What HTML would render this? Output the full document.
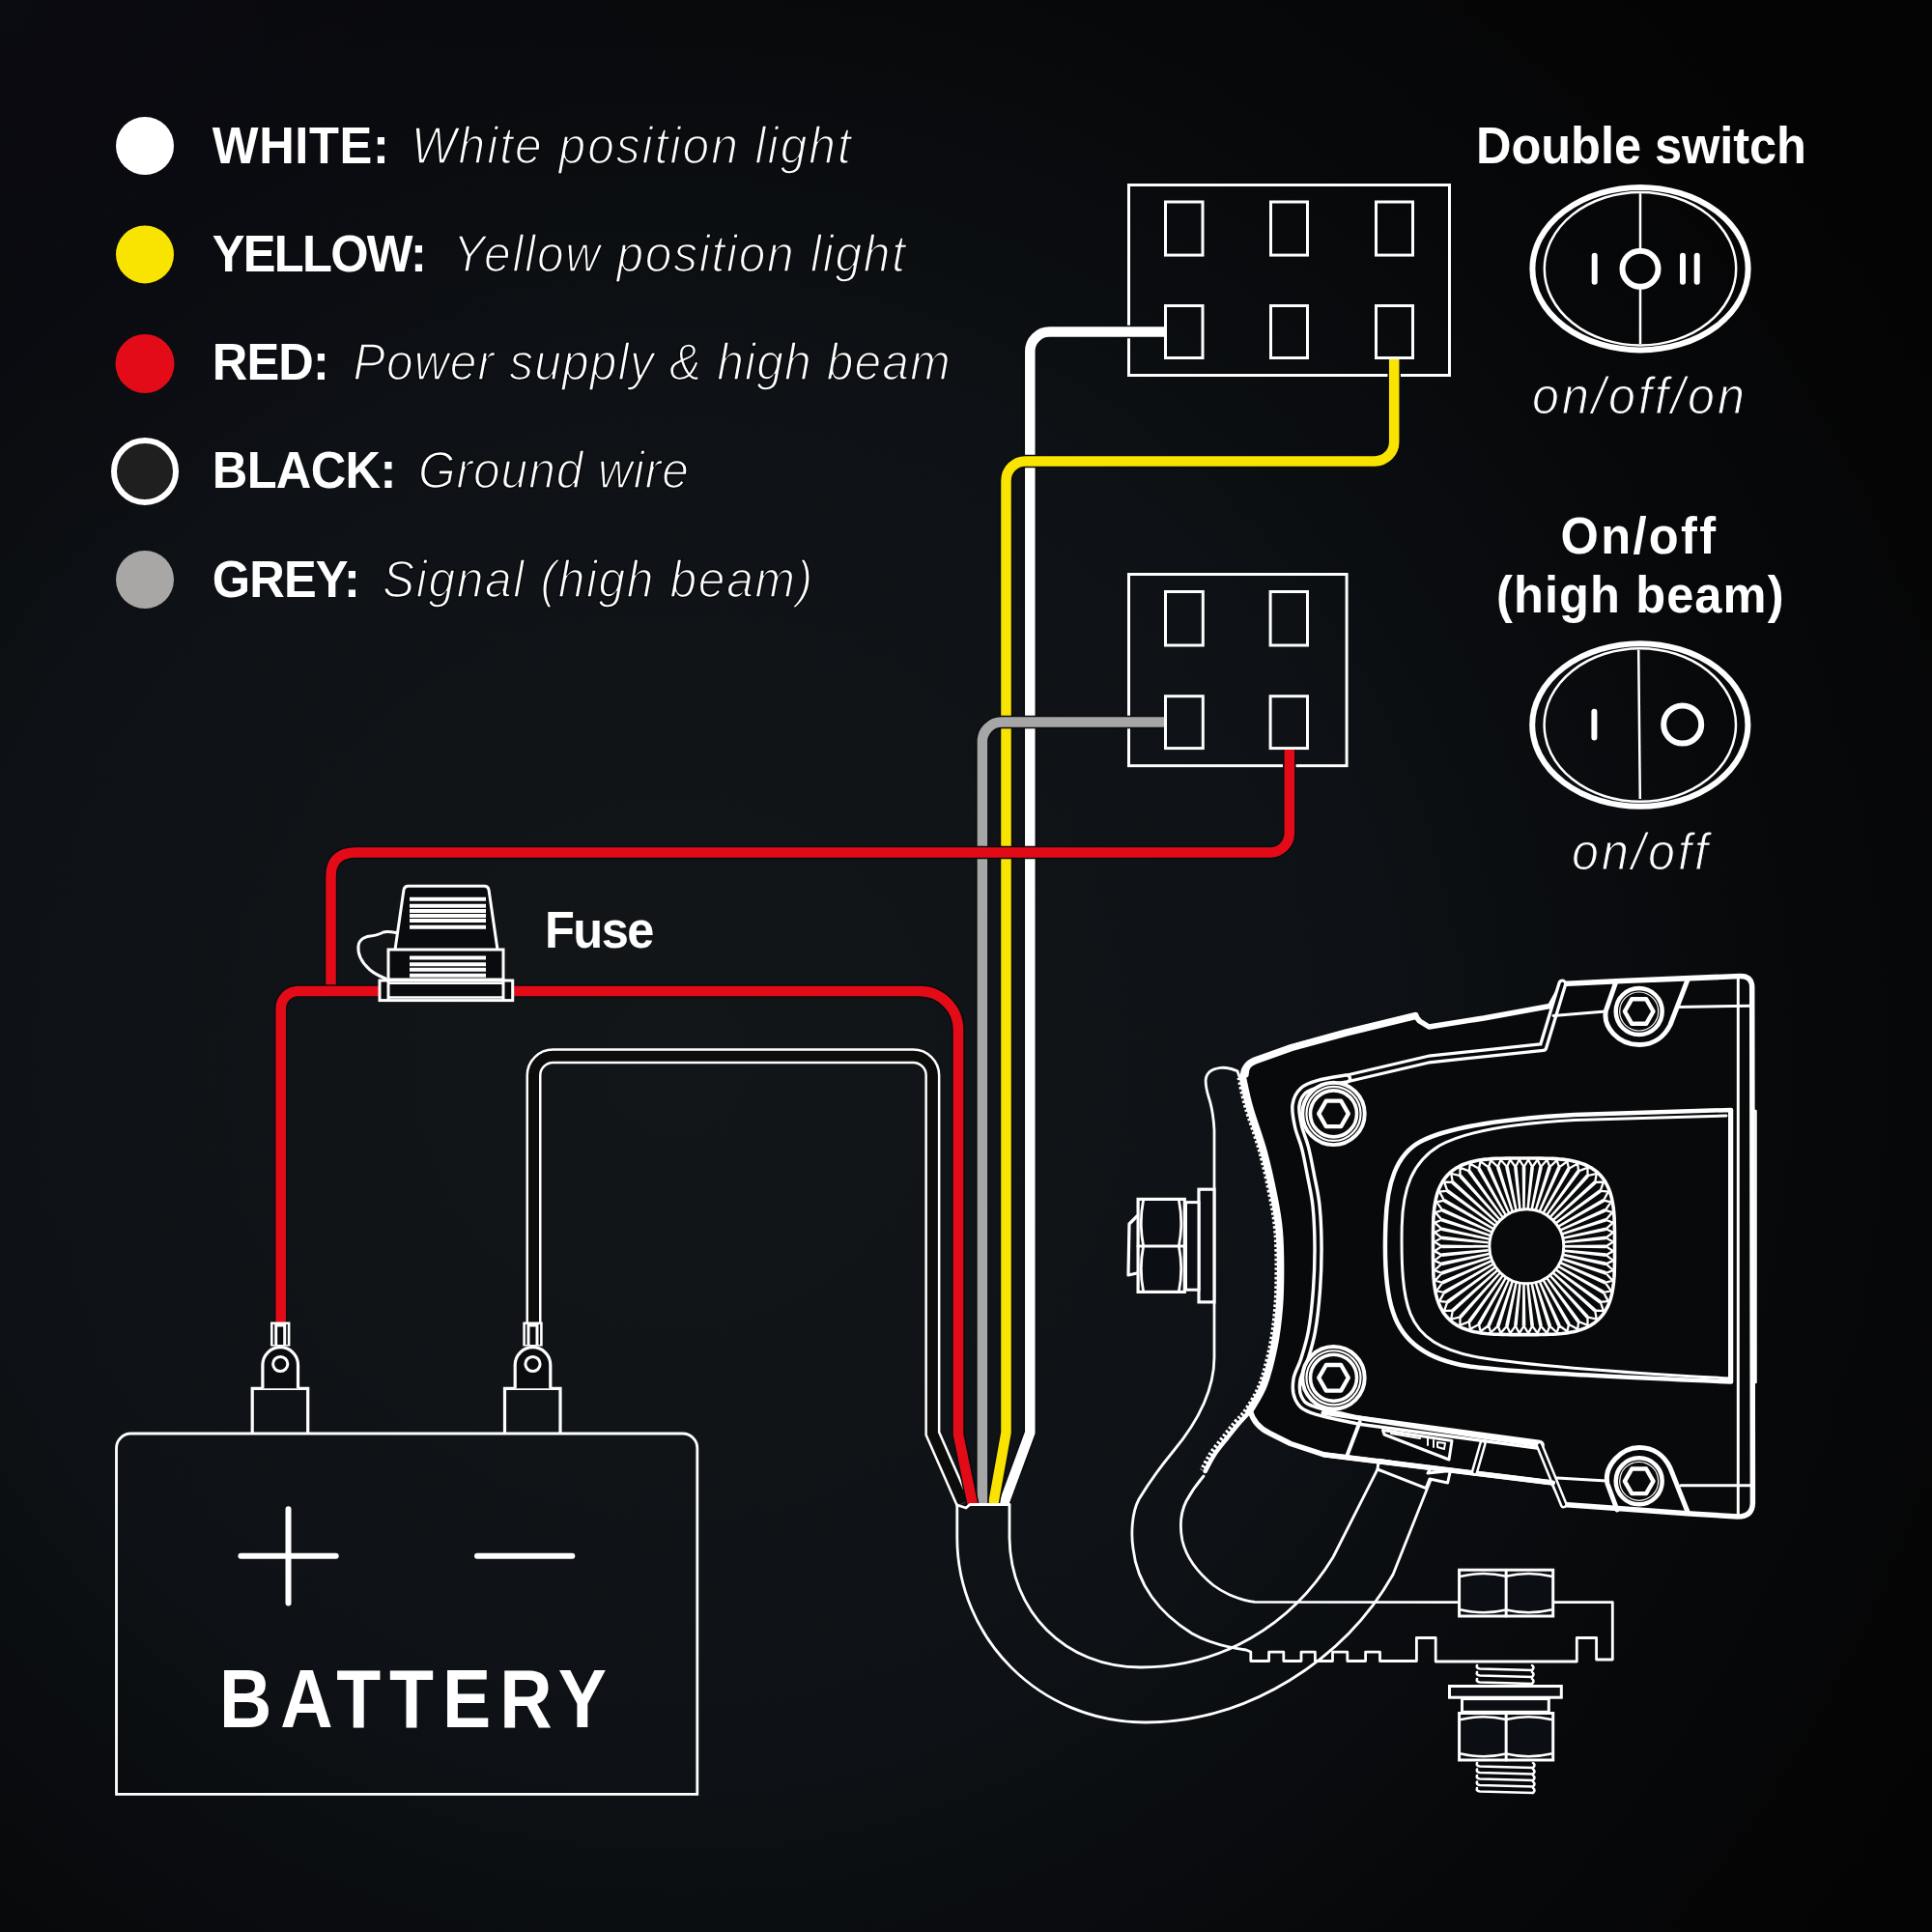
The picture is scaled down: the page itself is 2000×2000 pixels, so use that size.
<!DOCTYPE html>
<html><head><meta charset="utf-8"><title>Wiring diagram</title>
<style>html,body{margin:0;padding:0;background:#0b0f13;width:2000px;height:2000px;overflow:hidden}svg{display:block}</style>
</head><body>
<svg xmlns="http://www.w3.org/2000/svg" width="2000" height="2000" viewBox="0 0 2000 2000">
<defs>
<radialGradient id="bg" gradientUnits="userSpaceOnUse" cx="700" cy="1100" r="1550">
<stop offset="0" stop-color="#121619"/>
<stop offset="0.45" stop-color="#0e1216"/>
<stop offset="0.75" stop-color="#07080a"/>
<stop offset="1" stop-color="#040404"/>
</radialGradient>
<radialGradient id="bg2" gradientUnits="userSpaceOnUse" cx="0" cy="0" r="700">
<stop offset="0" stop-color="#0c0c14" stop-opacity="0.8"/>
<stop offset="1" stop-color="#0c0c14" stop-opacity="0"/>
</radialGradient>
</defs>
<rect x="0" y="0" width="2000" height="2000" fill="url(#bg)"/>
<rect x="0" y="0" width="2000" height="2000" fill="url(#bg2)"/>
<circle cx="150" cy="151" r="30" fill="#fff"/>
<circle cx="150" cy="263.4" r="30" fill="#f9e300"/>
<circle cx="150" cy="376.5" r="30.5" fill="#e30b17"/>
<circle cx="150" cy="488" r="32" fill="#1f1f1f" stroke="#fff" stroke-width="6"/>
<circle cx="150" cy="600" r="30" fill="#a9a7a5"/>
<text transform="translate(219.8 168.9) scale(0.93 1)" font-family="Liberation Sans, sans-serif" font-weight="bold" font-size="54.4" fill="#fff" textLength="196.8" lengthAdjust="spacing">WHITE:</text>
<text transform="translate(425.7 168.9) scale(0.92 1)" font-family="Liberation Sans, sans-serif" font-style="italic" font-size="54" fill="#fff" stroke="url(#bg)" stroke-width="1.6" textLength="494.6" lengthAdjust="spacing">White position light</text>
<text transform="translate(219.8 280.8) scale(0.93 1)" font-family="Liberation Sans, sans-serif" font-weight="bold" font-size="54.4" fill="#fff" textLength="238.7" lengthAdjust="spacing">YELLOW:</text>
<text transform="translate(469 280.8) scale(0.92 1)" font-family="Liberation Sans, sans-serif" font-style="italic" font-size="54" fill="#fff" stroke="url(#bg)" stroke-width="1.6" textLength="508.7" lengthAdjust="spacing">Yellow position light</text>
<text transform="translate(219.8 392.9) scale(0.93 1)" font-family="Liberation Sans, sans-serif" font-weight="bold" font-size="54.4" fill="#fff" textLength="130.1" lengthAdjust="spacing">RED:</text>
<text transform="translate(365.6 392.9) scale(0.92 1)" font-family="Liberation Sans, sans-serif" font-style="italic" font-size="54" fill="#fff" stroke="url(#bg)" stroke-width="1.6" textLength="671.7" lengthAdjust="spacing">Power supply &amp; high beam</text>
<text transform="translate(219.8 505.4) scale(0.93 1)" font-family="Liberation Sans, sans-serif" font-weight="bold" font-size="54.4" fill="#fff" textLength="204.8" lengthAdjust="spacing">BLACK:</text>
<text transform="translate(433 505.4) scale(0.92 1)" font-family="Liberation Sans, sans-serif" font-style="italic" font-size="54" fill="#fff" stroke="url(#bg)" stroke-width="1.6" textLength="304.3" lengthAdjust="spacing">Ground wire</text>
<text transform="translate(219.8 617.5) scale(0.93 1)" font-family="Liberation Sans, sans-serif" font-weight="bold" font-size="54.4" fill="#fff" textLength="164.5" lengthAdjust="spacing">GREY:</text>
<text transform="translate(396 617.5) scale(0.92 1)" font-family="Liberation Sans, sans-serif" font-style="italic" font-size="54" fill="#fff" stroke="url(#bg)" stroke-width="1.6" textLength="483.7" lengthAdjust="spacing">Signal (high beam)</text>
<text transform="translate(1528 168.8) scale(0.93 1)" font-family="Liberation Sans, sans-serif" font-weight="bold" font-size="54.4" fill="#fff" textLength="367.7" lengthAdjust="spacing">Double switch</text>
<text transform="translate(1586 427.8) scale(0.92 1)" font-family="Liberation Sans, sans-serif" font-style="italic" font-size="54.5" fill="#fff" stroke="url(#bg)" stroke-width="1.2" textLength="239.1" lengthAdjust="spacing">on/off/on</text>
<text transform="translate(1615.5 572.6) scale(0.93 1)" font-family="Liberation Sans, sans-serif" font-weight="bold" font-size="54.4" fill="#fff" textLength="172.6" lengthAdjust="spacing">On/off</text>
<text transform="translate(1549 633.5) scale(0.93 1)" font-family="Liberation Sans, sans-serif" font-weight="bold" font-size="54.4" fill="#fff" textLength="319.9" lengthAdjust="spacing">(high beam)</text>
<text transform="translate(1627 900) scale(0.92 1)" font-family="Liberation Sans, sans-serif" font-style="italic" font-size="54.5" fill="#fff" stroke="url(#bg)" stroke-width="1.2" textLength="153.3" lengthAdjust="spacing">on/off</text>
<text transform="translate(564 981) scale(0.93 1)" font-family="Liberation Sans, sans-serif" font-weight="bold" font-size="54.4" fill="#fff" textLength="122.0" lengthAdjust="spacing">Fuse</text>
<text transform="translate(227 1788) scale(0.89 1)" font-family="Liberation Sans, sans-serif" font-weight="bold" font-size="84.5" fill="#fff" textLength="450.6" lengthAdjust="spacing">BATTERY</text>
<ellipse cx="1698" cy="278.2" rx="111.6" ry="84.2" fill="none" stroke="#fff" stroke-width="6"/>
<ellipse cx="1698" cy="278.2" rx="99.2" ry="79.3" fill="none" stroke="#fff" stroke-width="2.5"/>
<line x1="1698" y1="200.2" x2="1698" y2="356.2" stroke="#fff" stroke-width="2.5"/>
<circle cx="1698" cy="278.2" r="18.5" fill="url(#bg)" stroke="#fff" stroke-width="6"/>
<line x1="1650.7" y1="264.7" x2="1650.7" y2="291.7" stroke="#fff" stroke-width="6" stroke-linecap="round"/>
<line x1="1742" y1="264.7" x2="1742" y2="291.7" stroke="#fff" stroke-width="6" stroke-linecap="round"/>
<line x1="1756.7" y1="264.7" x2="1756.7" y2="291.7" stroke="#fff" stroke-width="6" stroke-linecap="round"/>
<ellipse cx="1697.8" cy="750.5" rx="111.6" ry="84.2" fill="none" stroke="#fff" stroke-width="6"/>
<ellipse cx="1697.8" cy="750.5" rx="99.2" ry="79.3" fill="none" stroke="#fff" stroke-width="2.5"/>
<line x1="1696.2" y1="672.8" x2="1697.8" y2="827.0" stroke="#fff" stroke-width="2.5"/>
<circle cx="1741.7" cy="750.0" r="19.5" fill="none" stroke="#fff" stroke-width="6"/>
<line x1="1650.3999999999999" y1="736.7" x2="1650.3999999999999" y2="763.5" stroke="#fff" stroke-width="6" stroke-linecap="round"/>
<rect x="1168.5" y="191.5" width="332" height="197" fill="none" stroke="#fff" stroke-width="3"/>
<rect x="1206.5" y="209.0" width="38.5" height="55.10000000000002" fill="none" stroke="#fff" stroke-width="3"/>
<rect x="1206.5" y="316.5" width="38.5" height="54" fill="none" stroke="#fff" stroke-width="3"/>
<rect x="1315.5" y="209.0" width="38" height="55.10000000000002" fill="none" stroke="#fff" stroke-width="3"/>
<rect x="1315.5" y="316.5" width="38" height="54" fill="none" stroke="#fff" stroke-width="3"/>
<rect x="1424.5" y="209.0" width="38" height="55.10000000000002" fill="none" stroke="#fff" stroke-width="3"/>
<rect x="1424.5" y="316.5" width="38" height="54" fill="none" stroke="#fff" stroke-width="3"/>
<rect x="1168.5" y="594.5" width="225.5999999999999" height="198.20000000000005" fill="none" stroke="#fff" stroke-width="3"/>
<rect x="1206.5" y="612.5" width="38.799999999999955" height="55.5" fill="none" stroke="#fff" stroke-width="3"/>
<rect x="1206.5" y="720.7" width="38.799999999999955" height="53.89999999999998" fill="none" stroke="#fff" stroke-width="3"/>
<rect x="1315.1" y="612.5" width="38.40000000000009" height="55.5" fill="none" stroke="#fff" stroke-width="3"/>
<rect x="1315.1" y="720.7" width="38.40000000000009" height="53.89999999999998" fill="none" stroke="#fff" stroke-width="3"/>
<path d="M552.5 1370 V1113.3 A20 20 0 0 1 572.5 1093.3 H945.4 A20 20 0 0 1 965.4 1113.3 V1484 L997 1556" fill="none" stroke="#fff" stroke-width="16"/>
<path d="M552.5 1370 V1113.3 A20 20 0 0 1 572.5 1093.3 H945.4 A20 20 0 0 1 965.4 1113.3 V1484 L997 1556" fill="none" stroke="#0c0c0a" stroke-width="11"/>
<path d="M1205 343.6 H1086.3 A20 20 0 0 0 1066.3 363.6 V1483 L1039 1557" fill="none" stroke="#0a0c0f" stroke-width="13.5" stroke-linejoin="round"/>
<path d="M1205 343.6 H1086.3 A20 20 0 0 0 1066.3 363.6 V1483 L1039 1557" fill="none" stroke="#ffffff" stroke-width="10.5" stroke-linejoin="round"/>
<path d="M1443.2 372 V457.4 A20 20 0 0 1 1423.2 477.4 H1061.5 A20 20 0 0 0 1041.5 497.4 V1483 L1028.2 1557" fill="none" stroke="#0a0c0f" stroke-width="13.5" stroke-linejoin="round"/>
<path d="M1443.2 372 V457.4 A20 20 0 0 1 1423.2 477.4 H1061.5 A20 20 0 0 0 1041.5 497.4 V1483 L1028.2 1557" fill="none" stroke="#f9e300" stroke-width="10.5" stroke-linejoin="round"/>
<path d="M1205 747.6 H1036.9 A20 20 0 0 0 1016.9 767.6 V1557" fill="none" stroke="#0a0c0f" stroke-width="13.5" stroke-linejoin="round"/>
<path d="M1205 747.6 H1036.9 A20 20 0 0 0 1016.9 767.6 V1557" fill="none" stroke="#a6a6a6" stroke-width="10.5" stroke-linejoin="round"/>
<path d="M1334.8 776 V862.5 A20 20 0 0 1 1314.8 882.5 H368 C352 882.5 342.5 890 342.5 907 V1026" fill="none" stroke="#0a0c0f" stroke-width="13.5" stroke-linejoin="round"/>
<path d="M1334.8 776 V862.5 A20 20 0 0 1 1314.8 882.5 H368 C352 882.5 342.5 890 342.5 907 V1026" fill="none" stroke="#e30b17" stroke-width="10.5" stroke-linejoin="round"/>
<path d="M290.7 1370 V1044 A18 18 0 0 1 308.7 1026 H952 A40 40 0 0 1 992 1066 V1485 L1006.8 1557" fill="none" stroke="#0a0c0f" stroke-width="13.5" stroke-linejoin="round"/>
<path d="M290.7 1370 V1044 A18 18 0 0 1 308.7 1026 H952 A40 40 0 0 1 992 1066 V1485 L1006.8 1557" fill="none" stroke="#e30b17" stroke-width="10.5" stroke-linejoin="round"/>
<path d="M990.8 1558 L990.8 1592 C991 1695 1075 1783 1186 1783 C1292 1783 1392 1718 1442 1630 L1481 1532" fill="none" stroke="#fff" stroke-linejoin="round" stroke-linecap="round" stroke-width="2.8" />
<path d="M1045 1558 L1045 1592 C1046 1668 1102 1726 1181 1726 C1262 1726 1336 1684 1380 1612 L1426 1521" fill="none" stroke="#fff" stroke-linejoin="round" stroke-linecap="round" stroke-width="2.8" />
<path d="M990.8 1558 L1000 1561 L1004 1557.5 L1045 1557.5" fill="none" stroke="#fff" stroke-linejoin="round" stroke-linecap="round" stroke-width="2.8" />
<path d="M1283.5 1116 L1281 1108.8 C1275 1106 1269 1104.8 1263.5 1105.4 C1255 1106.5 1249 1110 1248.2 1117.5 C1247.6 1126 1250.5 1133 1252.8 1141 C1255.2 1150 1256.5 1160 1257 1170 L1257 1405 C1257 1440 1240 1472 1214 1503 C1200 1520 1188 1537 1179 1552 C1171 1567 1171 1590 1173 1603 C1177 1640 1200 1670 1234 1691 C1250 1700 1268 1705 1290 1708 L1294.8 1710 L1294.8 1719.5 L1313.6 1719.5 L1313.6 1710.2 L1328.8 1710.2 L1328.8 1719.5 L1347 1719.5 L1347 1710.2 L1361.4 1710.2 L1361.4 1719.5 L1379.5 1719.5 L1379.5 1710.2 L1394.8 1710.2 L1394.8 1719.5 L1413.6 1719.5 L1413.6 1710.2 L1428.5 1710.2 L1428.5 1719.5 L1466.4 1719.5 L1466.4 1695.5 L1486.2 1695.5 L1486.2 1720 L1632.3 1720 L1632.3 1695.5 L1652.6 1695.5 L1652.6 1718 L1669.3 1718 L1669.3 1658.6 L1607.7 1658.6" fill="none" stroke="#fff" stroke-linejoin="round" stroke-linecap="round" stroke-width="2.8" />
<path d="M1509.5 1658.6 L1299 1658.4 C1285 1657 1268 1650 1256 1641 C1240 1628 1228 1612 1224 1595 C1221 1580 1222 1566 1228 1554 C1234 1543 1240 1535 1246 1528" fill="none" stroke="#fff" stroke-linejoin="round" stroke-linecap="round" stroke-width="2.8" />
<path d="M1286.5 1116.0 C1287.7 1121.1 1289.9 1133.7 1293.6 1146.6 C1297.2 1159.5 1304.2 1177.7 1308.4 1193.2 C1312.6 1208.7 1316.3 1226.2 1319.0 1239.8 C1321.7 1253.4 1323.2 1262.3 1324.3 1274.8 C1325.4 1287.2 1325.6 1301.3 1325.6 1314.5 C1325.6 1327.7 1325.4 1340.8 1324.3 1354.0 C1323.2 1367.2 1321.7 1380.5 1319.0 1393.7 C1316.3 1406.9 1312.6 1422.2 1308.4 1433.3 C1304.2 1444.3 1298.4 1453.2 1294.0 1460.0 C1289.6 1466.8 1286.0 1469.2 1282.0 1474.0 C1278.0 1478.8 1274.2 1483.7 1270.0 1489.0 C1265.8 1494.3 1260.7 1500.3 1257.0 1506.0 C1253.3 1511.7 1249.2 1520.2 1247.7 1523.0" fill="none" stroke="#fff" stroke-linejoin="round" stroke-linecap="round" stroke-width="4.5" />
<path d="M1286.5 1116.0 C1287.7 1121.1 1289.9 1133.7 1293.6 1146.6 C1297.2 1159.5 1304.2 1177.7 1308.4 1193.2 C1312.6 1208.7 1316.3 1226.2 1319.0 1239.8 C1321.7 1253.4 1323.2 1262.3 1324.3 1274.8 C1325.4 1287.2 1325.6 1301.3 1325.6 1314.5 C1325.6 1327.7 1325.4 1340.8 1324.3 1354.0 C1323.2 1367.2 1321.7 1380.5 1319.0 1393.7 C1316.3 1406.9 1312.6 1422.2 1308.4 1433.3 C1304.2 1444.3 1298.4 1453.2 1294.0 1460.0 C1289.6 1466.8 1286.0 1469.2 1282.0 1474.0 C1278.0 1478.8 1274.2 1483.7 1270.0 1489.0 C1265.8 1494.3 1260.7 1500.3 1257.0 1506.0 C1253.3 1511.7 1249.2 1520.2 1247.7 1523.0" fill="none" stroke="#fff" stroke-width="7" stroke-dasharray="2.6 2.2" stroke-linecap="butt" transform="translate(-2.6,-0.6)"/>
<path d="M1286.5 1116 C1286 1106 1291 1101 1298 1098.5 L1337 1084 L1394 1068.3 L1465 1051.2 L1469.5 1057 L1479.3 1063 L1536 1054 L1604.5 1041.5 L1617.3 1018.5 L1678.5 1015.6 L1801 1010.5 Q1813.5 1010 1813.7 1022 L1814.4 1556 Q1814 1570 1799 1570 L1750 1567 L1640 1559 L1618.7 1557.4 L1607.6 1535 L1370 1505.7 L1336 1494.5 L1315 1484 C1304 1479 1297 1471 1294 1460 C1296.4 1455.5 1304.2 1444.3 1308.4 1433.3 C1312.6 1422.2 1316.3 1406.9 1319.0 1393.7 C1321.7 1380.5 1323.2 1367.2 1324.3 1354.0 C1325.4 1340.8 1325.6 1327.7 1325.6 1314.5 C1325.6 1301.3 1325.4 1287.2 1324.3 1274.8 C1323.2 1262.3 1321.7 1253.4 1319.0 1239.8 C1316.3 1226.2 1312.6 1208.7 1308.4 1193.2 C1304.2 1177.7 1297.2 1159.5 1293.6 1146.6 C1289.9 1133.7 1287.7 1121.1 1286.5 1116.0 Z" fill="#08090b" stroke="#fff" stroke-width="5.5" stroke-linejoin="round"/>
<path d="M1286.5 1116.0 C1287.7 1121.1 1289.9 1133.7 1293.6 1146.6 C1297.2 1159.5 1304.2 1177.7 1308.4 1193.2 C1312.6 1208.7 1316.3 1226.2 1319.0 1239.8 C1321.7 1253.4 1323.2 1262.3 1324.3 1274.8 C1325.4 1287.2 1325.6 1301.3 1325.6 1314.5 C1325.6 1327.7 1325.4 1340.8 1324.3 1354.0 C1323.2 1367.2 1321.7 1380.5 1319.0 1393.7 C1316.3 1406.9 1312.6 1422.2 1308.4 1433.3 C1304.2 1444.3 1296.4 1455.5 1294.0 1460.0" fill="none" stroke="#fff" stroke-linejoin="round" stroke-linecap="round" stroke-width="7.5" />
<path d="M1289 1112 C1289 1104 1293 1100.5 1299 1098 L1337 1084.5 L1394 1068.8 L1465 1051.6" fill="none" stroke="#fff" stroke-linejoin="round" stroke-linecap="round" stroke-width="7.5" />
<path d="M1617.3 1018.5 L1597.4 1084 L1479.3 1096.5 L1394 1116.5" fill="none" stroke="#fff" stroke-linejoin="round" stroke-linecap="round" stroke-width="10"/>
<path d="M1617.3 1018.5 L1597.4 1084 L1479.3 1096.5 L1394 1116.5" fill="none" stroke="#08090b" stroke-width="3.4" stroke-linejoin="round" stroke-linecap="round"/>
<path d="M1608 1051.5 L1662 1047" fill="none" stroke="#fff" stroke-linejoin="round" stroke-linecap="round" stroke-width="3" />
<path d="M1736 1042.5 L1812.3 1041.2" fill="none" stroke="#fff" stroke-linejoin="round" stroke-linecap="round" stroke-width="3" />
<path d="M1799.3 1011 L1799.3 1569" fill="none" stroke="#fff" stroke-linejoin="round" stroke-linecap="round" stroke-width="3" />
<path d="M1813.7 1150 L1817.5 1150 L1817.5 1431 L1814 1431" fill="none" stroke="#fff" stroke-linejoin="round" stroke-linecap="round" stroke-width="2.5" />
<path d="M1394.0 1116.5 C1389.3 1117.3 1373.5 1119.4 1366.0 1121.5 C1358.5 1123.6 1353.1 1125.2 1349.0 1129.0 C1344.9 1132.8 1342.3 1137.8 1341.5 1144.0 C1340.7 1150.2 1342.4 1158.7 1344.0 1166.0 C1345.6 1173.3 1348.8 1179.5 1351.0 1188.0 C1353.2 1196.5 1355.1 1207.0 1357.0 1217.0 C1358.9 1227.0 1361.2 1235.8 1362.5 1248.0 C1363.8 1260.2 1364.4 1275.5 1364.5 1290.0 C1364.6 1304.5 1364.1 1320.3 1363.0 1335.0 C1361.9 1349.7 1360.2 1365.8 1358.0 1378.0 C1355.8 1390.2 1352.6 1399.7 1350.0 1408.0 C1347.4 1416.3 1343.5 1421.5 1342.5 1428.0 C1341.5 1434.5 1341.4 1441.8 1344.0 1447.0 C1346.6 1452.2 1347.7 1455.1 1358.0 1459.0 C1368.3 1462.9 1397.8 1468.6 1405.7 1470.5 L1593.6 1495.9" fill="none" stroke="#fff" stroke-linejoin="round" stroke-linecap="round" stroke-width="10.5"/>
<path d="M1394.0 1116.5 C1389.3 1117.3 1373.5 1119.4 1366.0 1121.5 C1358.5 1123.6 1353.1 1125.2 1349.0 1129.0 C1344.9 1132.8 1342.3 1137.8 1341.5 1144.0 C1340.7 1150.2 1342.4 1158.7 1344.0 1166.0 C1345.6 1173.3 1348.8 1179.5 1351.0 1188.0 C1353.2 1196.5 1355.1 1207.0 1357.0 1217.0 C1358.9 1227.0 1361.2 1235.8 1362.5 1248.0 C1363.8 1260.2 1364.4 1275.5 1364.5 1290.0 C1364.6 1304.5 1364.1 1320.3 1363.0 1335.0 C1361.9 1349.7 1360.2 1365.8 1358.0 1378.0 C1355.8 1390.2 1352.6 1399.7 1350.0 1408.0 C1347.4 1416.3 1343.5 1421.5 1342.5 1428.0 C1341.5 1434.5 1341.4 1441.8 1344.0 1447.0 C1346.6 1452.2 1347.7 1455.1 1358.0 1459.0 C1368.3 1462.9 1397.8 1468.6 1405.7 1470.5 L1593.6 1495.9" fill="none" stroke="#08090b" stroke-width="3.6" stroke-linejoin="round" stroke-linecap="round"/>
<path d="M1370 1462.4 L1593.6 1495.9" fill="none" stroke="#fff" stroke-linejoin="round" stroke-linecap="round" stroke-width="5" />
<path d="M1593.6 1495.9 L1618.7 1557.4" fill="none" stroke="#fff" stroke-linejoin="round" stroke-linecap="round" stroke-width="8"/>
<path d="M1593.6 1495.9 L1618.7 1557.4" fill="none" stroke="#08090b" stroke-width="3" stroke-linejoin="round" stroke-linecap="round"/>
<path d="M1370 1505.7 L1607.6 1535" fill="none" stroke="#fff" stroke-linejoin="round" stroke-linecap="round" stroke-width="5" />
<path d="M1612 1530 L1663 1533" fill="none" stroke="#fff" stroke-linejoin="round" stroke-linecap="round" stroke-width="3" />
<path d="M1407.7 1472 L1393.8 1508.5" fill="none" stroke="#fff" stroke-linejoin="round" stroke-linecap="round" stroke-width="4" />
<path d="M1534.9 1494.5 L1526.5 1523.8" fill="none" stroke="#fff" stroke-linejoin="round" stroke-linecap="round" stroke-width="7.5"/>
<path d="M1534.9 1494.5 L1526.5 1523.8" fill="none" stroke="#08090b" stroke-width="2.5" stroke-linejoin="round" stroke-linecap="round"/>
<path d="M1739.9 1537.7 L1814.4 1537.7" fill="none" stroke="#fff" stroke-linejoin="round" stroke-linecap="round" stroke-width="3" />
<path d="M1431.5 1480.5 L1503 1491.5 L1500 1511 L1433 1485 Z" fill="none" stroke="#fff" stroke-linejoin="round" stroke-linecap="round" stroke-width="3" />
<path d="M1440 1484 L1470 1489 M1478 1489 L1478 1496 M1484 1491 L1484 1498 M1488 1493 L1496 1494 L1495 1500 L1488 1498 Z" fill="none" stroke="#fff" stroke-linejoin="round" stroke-linecap="round" stroke-width="2" />
<path d="M1427.3 1511.3 L1481 1520 L1478 1525 L1501.4 1522.6 L1498.6 1535 L1480 1531 L1476.2 1540.6 L1426 1521 Z" fill="none" stroke="#fff" stroke-linejoin="round" stroke-linecap="round" stroke-width="3" />
<circle cx="1380.5" cy="1152.9" r="28.2" fill="#08090b" stroke="#fff" stroke-width="12"/>
<circle cx="1380.5" cy="1152.9" r="26.4" fill="none" stroke="#08090b" stroke-width="1.1"/>
<circle cx="1380.5" cy="1152.9" r="29.7" fill="none" stroke="#08090b" stroke-width="1.1"/>
<path d="M1395.8 1152.9 L1388.2 1166.2 L1372.8 1166.2 L1365.2 1152.9 L1372.8 1139.6 L1388.2 1139.6 Z" fill="none" stroke="#fff" stroke-width="4.3" stroke-linejoin="round"/>
<circle cx="1380.5" cy="1426.3" r="28.2" fill="#08090b" stroke="#fff" stroke-width="12"/>
<circle cx="1380.5" cy="1426.3" r="26.4" fill="none" stroke="#08090b" stroke-width="1.1"/>
<circle cx="1380.5" cy="1426.3" r="29.7" fill="none" stroke="#08090b" stroke-width="1.1"/>
<path d="M1395.8 1426.3 L1388.2 1439.6 L1372.8 1439.6 L1365.2 1426.3 L1372.8 1413.0 L1388.2 1413.0 Z" fill="none" stroke="#fff" stroke-width="4.3" stroke-linejoin="round"/>
<path d="M1673 1016 L1662.5 1046 C1659 1063 1675 1081.5 1697 1081.5 C1712 1081.5 1723 1073 1729 1061 L1747.5 1013" fill="none" stroke="#fff" stroke-linejoin="round" stroke-linecap="round" stroke-width="5" />
<path d="M1674 1563 L1664 1536 C1660 1518 1678 1498.5 1697 1498.5 C1712 1498.5 1723 1507 1729 1519.6 L1747 1565" fill="none" stroke="#fff" stroke-linejoin="round" stroke-linecap="round" stroke-width="5" />
<circle cx="1696.7" cy="1047" r="24" fill="#08090b" stroke="#fff" stroke-width="4.5"/>
<circle cx="1696.7" cy="1047" r="20" fill="none" stroke="#fff" stroke-width="1.2"/>
<path d="M1711.5 1047.0 L1704.1 1059.8 L1689.3 1059.8 L1681.9 1047.0 L1689.3 1034.2 L1704.1 1034.2 Z" fill="none" stroke="#fff" stroke-width="4.4" stroke-linejoin="round"/>
<circle cx="1696.7" cy="1533.3" r="24" fill="#08090b" stroke="#fff" stroke-width="4.5"/>
<circle cx="1696.7" cy="1533.3" r="20" fill="none" stroke="#fff" stroke-width="1.2"/>
<path d="M1711.5 1533.3 L1704.1 1546.1 L1689.3 1546.1 L1681.9 1533.3 L1689.3 1520.5 L1704.1 1520.5 Z" fill="none" stroke="#fff" stroke-width="4.4" stroke-linejoin="round"/>
<path d="M1792 1149 L1630 1154 C1560 1158 1500 1166 1470 1182 C1445 1196 1436 1225 1434.5 1265 C1433 1300 1434 1335 1442 1358 C1452 1390 1480 1408 1520 1414.3 C1560 1420 1640 1424 1792 1430.6 Z" fill="none" stroke="#fff" stroke-linejoin="round" stroke-linecap="round" stroke-width="4.5" />
<path d="M1787 1155 L1630 1159.5 C1565 1163 1515 1172 1490 1186 C1462 1203 1452 1230 1451.2 1270 C1450.5 1310 1452 1340 1460 1360 C1470 1385 1492 1398 1530 1405 C1580 1413 1660 1420 1792 1427" fill="none" stroke="#fff" stroke-linejoin="round" stroke-linecap="round" stroke-width="3" />
<path d="M1790.5 1151 L1790.5 1429" fill="none" stroke="#fff" stroke-linejoin="round" stroke-linecap="round" stroke-width="3" />
<path d="M1671.5 1290.3 L1671.5 1302.4 L1671.4 1308.0 L1671.3 1312.5 L1671.2 1316.3 L1671.1 1319.8 L1670.9 1322.9 L1670.6 1325.8 L1670.4 1328.5 L1670.0 1331.0 L1669.7 1333.4 L1669.3 1335.7 L1668.9 1337.8 L1668.5 1339.9 L1668.0 1341.9 L1667.5 1343.8 L1666.9 1345.7 L1666.3 1347.5 L1665.7 1349.2 L1665.0 1350.8 L1664.3 1352.4 L1663.5 1354.0 L1662.7 1355.4 L1661.9 1356.9 L1661.1 1358.3 L1660.2 1359.6 L1659.2 1360.9 L1658.2 1362.1 L1657.2 1363.3 L1656.1 1364.5 L1655.0 1365.6 L1653.9 1366.7 L1652.7 1367.7 L1651.5 1368.7 L1650.2 1369.7 L1648.8 1370.6 L1647.5 1371.5 L1646.0 1372.3 L1644.6 1373.1 L1643.0 1373.9 L1641.5 1374.6 L1639.8 1375.3 L1638.1 1375.9 L1636.4 1376.5 L1634.5 1377.1 L1632.6 1377.7 L1630.7 1378.2 L1628.6 1378.7 L1626.5 1379.1 L1624.2 1379.5 L1621.9 1379.9 L1619.4 1380.2 L1616.8 1380.5 L1614.0 1380.7 L1611.0 1381.0 L1607.8 1381.2 L1604.3 1381.3 L1600.4 1381.4 L1595.8 1381.5 L1589.9 1381.6 L1577.5 1381.6 L1565.1 1381.6 L1559.2 1381.5 L1554.6 1381.4 L1550.7 1381.3 L1547.2 1381.2 L1544.0 1381.0 L1541.0 1380.7 L1538.2 1380.5 L1535.6 1380.2 L1533.1 1379.9 L1530.8 1379.5 L1528.5 1379.1 L1526.4 1378.7 L1524.3 1378.2 L1522.4 1377.7 L1520.5 1377.1 L1518.6 1376.5 L1516.9 1375.9 L1515.2 1375.3 L1513.5 1374.6 L1512.0 1373.9 L1510.4 1373.1 L1509.0 1372.3 L1507.5 1371.5 L1506.2 1370.6 L1504.8 1369.7 L1503.5 1368.7 L1502.3 1367.7 L1501.1 1366.7 L1500.0 1365.6 L1498.9 1364.5 L1497.8 1363.3 L1496.8 1362.1 L1495.8 1360.9 L1494.8 1359.6 L1493.9 1358.3 L1493.1 1356.9 L1492.3 1355.4 L1491.5 1354.0 L1490.7 1352.4 L1490.0 1350.8 L1489.3 1349.2 L1488.7 1347.5 L1488.1 1345.7 L1487.5 1343.8 L1487.0 1341.9 L1486.5 1339.9 L1486.1 1337.8 L1485.7 1335.7 L1485.3 1333.4 L1485.0 1331.0 L1484.6 1328.5 L1484.4 1325.8 L1484.1 1322.9 L1483.9 1319.8 L1483.8 1316.3 L1483.7 1312.5 L1483.6 1308.0 L1483.5 1302.4 L1483.5 1290.3 L1483.5 1278.2 L1483.6 1272.6 L1483.7 1268.1 L1483.8 1264.3 L1483.9 1260.8 L1484.1 1257.7 L1484.4 1254.8 L1484.6 1252.1 L1485.0 1249.6 L1485.3 1247.2 L1485.7 1244.9 L1486.1 1242.8 L1486.5 1240.7 L1487.0 1238.7 L1487.5 1236.8 L1488.1 1234.9 L1488.7 1233.1 L1489.3 1231.4 L1490.0 1229.8 L1490.7 1228.2 L1491.5 1226.6 L1492.3 1225.2 L1493.1 1223.7 L1493.9 1222.3 L1494.8 1221.0 L1495.8 1219.7 L1496.8 1218.5 L1497.8 1217.3 L1498.9 1216.1 L1500.0 1215.0 L1501.1 1213.9 L1502.3 1212.9 L1503.5 1211.9 L1504.8 1210.9 L1506.2 1210.0 L1507.5 1209.1 L1509.0 1208.3 L1510.4 1207.5 L1512.0 1206.7 L1513.5 1206.0 L1515.2 1205.3 L1516.9 1204.7 L1518.6 1204.1 L1520.5 1203.5 L1522.4 1202.9 L1524.3 1202.4 L1526.4 1201.9 L1528.5 1201.5 L1530.8 1201.1 L1533.1 1200.7 L1535.6 1200.4 L1538.2 1200.1 L1541.0 1199.9 L1544.0 1199.6 L1547.2 1199.4 L1550.7 1199.3 L1554.6 1199.2 L1559.2 1199.1 L1565.1 1199.0 L1577.5 1199.0 L1589.9 1199.0 L1595.8 1199.1 L1600.4 1199.2 L1604.3 1199.3 L1607.8 1199.4 L1611.0 1199.6 L1614.0 1199.9 L1616.8 1200.1 L1619.4 1200.4 L1621.9 1200.7 L1624.2 1201.1 L1626.5 1201.5 L1628.6 1201.9 L1630.7 1202.4 L1632.6 1202.9 L1634.5 1203.5 L1636.4 1204.1 L1638.1 1204.7 L1639.8 1205.3 L1641.5 1206.0 L1643.0 1206.7 L1644.6 1207.5 L1646.0 1208.3 L1647.5 1209.1 L1648.8 1210.0 L1650.2 1210.9 L1651.5 1211.9 L1652.7 1212.9 L1653.9 1213.9 L1655.0 1215.0 L1656.1 1216.1 L1657.2 1217.3 L1658.2 1218.5 L1659.2 1219.7 L1660.2 1221.0 L1661.1 1222.3 L1661.9 1223.7 L1662.7 1225.2 L1663.5 1226.6 L1664.3 1228.2 L1665.0 1229.8 L1665.7 1231.4 L1666.3 1233.1 L1666.9 1234.9 L1667.5 1236.8 L1668.0 1238.7 L1668.5 1240.7 L1668.9 1242.8 L1669.3 1244.9 L1669.7 1247.2 L1670.0 1249.6 L1670.4 1252.1 L1670.6 1254.8 L1670.9 1257.7 L1671.1 1260.8 L1671.2 1264.3 L1671.3 1268.1 L1671.4 1272.6 L1671.5 1278.2 Z" fill="#08090b" stroke="#fff" stroke-width="3.6"/>
<path d="M1614.5 1291.5 L1662.5 1292.2 L1662.5 1288.4 L1614.5 1289.1 Z M1614.2 1295.4 L1662.3 1301.1 L1662.7 1297.3 L1614.4 1293.0 Z M1613.4 1299.2 L1662.2 1310.2 L1663.0 1306.5 L1613.9 1296.8 Z M1612.3 1302.9 L1661.9 1319.7 L1663.0 1316.1 L1613.1 1300.6 Z M1610.8 1306.4 L1661.0 1329.6 L1662.5 1326.1 L1611.8 1304.3 Z M1608.9 1309.8 L1659.1 1339.6 L1661.0 1336.3 L1610.1 1307.8 Z M1606.7 1313.0 L1655.6 1349.4 L1657.8 1346.3 L1608.1 1311.1 Z M1604.2 1315.9 L1649.9 1358.0 L1652.4 1355.2 L1605.8 1314.2 Z M1601.4 1318.6 L1642.0 1364.8 L1644.8 1362.2 L1603.1 1317.0 Z M1598.3 1320.9 L1632.5 1369.3 L1635.6 1367.1 L1600.2 1319.5 Z M1595.0 1322.9 L1622.4 1371.8 L1625.7 1369.9 L1597.0 1321.7 Z M1591.5 1324.6 L1612.2 1372.9 L1615.7 1371.4 L1593.6 1323.6 Z M1587.8 1325.9 L1602.4 1373.2 L1606.1 1372.1 L1590.1 1325.1 Z M1584.0 1326.7 L1593.2 1373.1 L1596.9 1372.3 L1586.4 1326.2 Z M1580.2 1327.2 L1584.3 1372.8 L1588.0 1372.4 L1582.6 1327.0 Z M1576.3 1327.3 L1575.6 1372.6 L1579.4 1372.6 L1578.7 1327.3 Z M1572.4 1327.0 L1567.0 1372.4 L1570.7 1372.8 L1574.8 1327.2 Z M1568.6 1326.2 L1558.1 1372.3 L1561.8 1373.1 L1571.0 1326.7 Z M1564.9 1325.1 L1548.9 1372.1 L1552.6 1373.2 L1567.2 1325.9 Z M1561.4 1323.6 L1539.3 1371.4 L1542.8 1372.9 L1563.5 1324.6 Z M1558.0 1321.7 L1529.3 1369.9 L1532.6 1371.8 L1560.0 1322.9 Z M1554.8 1319.5 L1519.4 1367.1 L1522.5 1369.3 L1556.7 1320.9 Z M1551.9 1317.0 L1510.2 1362.2 L1513.0 1364.8 L1553.6 1318.6 Z M1549.2 1314.2 L1502.6 1355.2 L1505.1 1358.0 L1550.8 1315.9 Z M1546.9 1311.1 L1497.2 1346.3 L1499.4 1349.4 L1548.3 1313.0 Z M1544.9 1307.8 L1494.0 1336.3 L1495.9 1339.6 L1546.1 1309.8 Z M1543.2 1304.3 L1492.5 1326.1 L1494.0 1329.6 L1544.2 1306.4 Z M1541.9 1300.6 L1492.0 1316.1 L1493.1 1319.7 L1542.7 1302.9 Z M1541.1 1296.8 L1492.0 1306.5 L1492.8 1310.2 L1541.6 1299.2 Z M1540.6 1293.0 L1492.3 1297.3 L1492.7 1301.1 L1540.8 1295.4 Z M1540.5 1289.1 L1492.5 1288.4 L1492.5 1292.2 L1540.5 1291.5 Z M1540.8 1285.2 L1492.7 1279.5 L1492.3 1283.3 L1540.6 1287.6 Z M1541.6 1281.4 L1492.8 1270.4 L1492.0 1274.1 L1541.1 1283.8 Z M1542.7 1277.7 L1493.1 1260.9 L1492.0 1264.5 L1541.9 1280.0 Z M1544.2 1274.2 L1494.0 1251.0 L1492.5 1254.5 L1543.2 1276.3 Z M1546.1 1270.8 L1495.9 1241.0 L1494.0 1244.3 L1544.9 1272.8 Z M1548.3 1267.6 L1499.4 1231.2 L1497.2 1234.3 L1546.9 1269.5 Z M1550.8 1264.7 L1505.1 1222.6 L1502.6 1225.4 L1549.2 1266.4 Z M1553.6 1262.0 L1513.0 1215.8 L1510.2 1218.4 L1551.9 1263.6 Z M1556.7 1259.7 L1522.5 1211.3 L1519.4 1213.5 L1554.8 1261.1 Z M1560.0 1257.7 L1532.6 1208.8 L1529.3 1210.7 L1558.0 1258.9 Z M1563.5 1256.0 L1542.8 1207.7 L1539.3 1209.2 L1561.4 1257.0 Z M1567.2 1254.7 L1552.6 1207.4 L1548.9 1208.5 L1564.9 1255.5 Z M1571.0 1253.9 L1561.8 1207.5 L1558.1 1208.3 L1568.6 1254.4 Z M1574.8 1253.4 L1570.7 1207.8 L1567.0 1208.2 L1572.4 1253.6 Z M1578.7 1253.3 L1579.4 1208.0 L1575.6 1208.0 L1576.3 1253.3 Z M1582.6 1253.6 L1588.0 1208.2 L1584.3 1207.8 L1580.2 1253.4 Z M1586.4 1254.4 L1596.9 1208.3 L1593.2 1207.5 L1584.0 1253.9 Z M1590.1 1255.5 L1606.1 1208.5 L1602.4 1207.4 L1587.8 1254.7 Z M1593.6 1257.0 L1615.7 1209.2 L1612.2 1207.7 L1591.5 1256.0 Z M1597.0 1258.9 L1625.7 1210.7 L1622.4 1208.8 L1595.0 1257.7 Z M1600.2 1261.1 L1635.6 1213.5 L1632.5 1211.3 L1598.3 1259.7 Z M1603.1 1263.6 L1644.8 1218.4 L1642.0 1215.8 L1601.4 1262.0 Z M1605.8 1266.4 L1652.4 1225.4 L1649.9 1222.6 L1604.2 1264.7 Z M1608.1 1269.5 L1657.8 1234.3 L1655.6 1231.2 L1606.7 1267.6 Z M1610.1 1272.8 L1661.0 1244.3 L1659.1 1241.0 L1608.9 1270.8 Z M1611.8 1276.3 L1662.5 1254.5 L1661.0 1251.0 L1610.8 1274.2 Z M1613.1 1280.0 L1663.0 1264.5 L1661.9 1260.9 L1612.3 1277.7 Z M1613.9 1283.8 L1663.0 1274.1 L1662.2 1270.4 L1613.4 1281.4 Z M1614.4 1287.6 L1662.7 1283.3 L1662.3 1279.5 L1614.2 1285.2 Z" fill="#fff"/>
<path d="M1662.5 1290.3 L1670.0 1295.1 L1662.5 1299.2 L1670.0 1304.9 L1662.6 1308.4 L1669.8 1315.0 L1662.4 1317.9 L1669.2 1325.5 L1661.8 1327.8 L1667.8 1336.3 L1660.0 1338.0 L1664.9 1347.1 L1656.7 1347.8 L1660.0 1357.1 L1651.1 1356.6 L1652.8 1365.6 L1643.4 1363.5 L1643.6 1371.9 L1634.1 1368.2 L1633.2 1376.0 L1624.0 1370.9 L1622.4 1378.3 L1614.0 1372.2 L1611.7 1379.5 L1604.3 1372.6 L1601.5 1380.0 L1595.0 1372.7 L1591.7 1380.1 L1586.2 1372.6 L1582.2 1380.1 L1577.5 1372.6 L1572.8 1380.1 L1568.8 1372.6 L1563.3 1380.1 L1560.0 1372.7 L1553.5 1380.0 L1550.7 1372.6 L1543.3 1379.5 L1541.0 1372.2 L1532.6 1378.3 L1531.0 1370.9 L1521.8 1376.0 L1520.9 1368.2 L1511.4 1371.9 L1511.6 1363.5 L1502.2 1365.6 L1503.9 1356.6 L1495.0 1357.1 L1498.3 1347.8 L1490.1 1347.1 L1495.0 1338.0 L1487.2 1336.3 L1493.2 1327.8 L1485.8 1325.5 L1492.6 1317.9 L1485.2 1315.0 L1492.4 1308.4 L1485.0 1304.9 L1492.5 1299.2 L1485.0 1295.1 L1492.5 1290.3 L1485.0 1285.5 L1492.5 1281.4 L1485.0 1275.7 L1492.4 1272.2 L1485.2 1265.6 L1492.6 1262.7 L1485.8 1255.1 L1493.2 1252.8 L1487.2 1244.3 L1495.0 1242.6 L1490.1 1233.5 L1498.3 1232.8 L1495.0 1223.5 L1503.9 1224.0 L1502.2 1215.0 L1511.6 1217.1 L1511.4 1208.7 L1520.9 1212.4 L1521.8 1204.6 L1531.0 1209.7 L1532.6 1202.3 L1541.0 1208.4 L1543.3 1201.1 L1550.7 1208.0 L1553.5 1200.6 L1560.0 1207.9 L1563.3 1200.5 L1568.8 1208.0 L1572.8 1200.5 L1577.5 1208.0 L1582.2 1200.5 L1586.2 1208.0 L1591.7 1200.5 L1595.0 1207.9 L1601.5 1200.6 L1604.3 1208.0 L1611.7 1201.1 L1614.0 1208.4 L1622.4 1202.3 L1624.0 1209.7 L1633.2 1204.6 L1634.1 1212.4 L1643.6 1208.7 L1643.4 1217.1 L1652.8 1215.0 L1651.1 1224.0 L1660.0 1223.5 L1656.7 1232.8 L1664.9 1233.5 L1660.0 1242.6 L1667.8 1244.3 L1661.8 1252.8 L1669.2 1255.1 L1662.4 1262.7 L1669.8 1265.6 L1662.6 1272.2 L1670.0 1275.7 L1662.5 1281.4 L1670.0 1285.5 Z" fill="none" stroke="#fff" stroke-width="2.3" stroke-linejoin="miter"/>
<circle cx="1580.3" cy="1290.3" r="38.5" fill="#08090b" stroke="#fff" stroke-width="3"/>
<rect x="1241" y="1231.2" width="16" height="116.7" fill="#0b0e12" stroke="#fff" stroke-width="3.2"/>
<rect x="1227.5" y="1244.6" width="13.5" height="90.6" fill="#0b0e12" stroke="#fff" stroke-width="3"/>
<rect x="1178.1" y="1241.4" width="48.2" height="96" fill="#0b0e12" stroke="#fff" stroke-width="3.2"/>
<path d="M1178.1 1290 L1226.3 1290" fill="none" stroke="#fff" stroke-linejoin="round" stroke-linecap="round" stroke-width="3.2" />
<path d="M1183.5 1243 Q1179 1266.0 1183.5 1289" fill="none" stroke="#fff" stroke-linejoin="round" stroke-linecap="round" stroke-width="2.8" />
<path d="M1220.5 1243 Q1225 1266.0 1220.5 1289" fill="none" stroke="#fff" stroke-linejoin="round" stroke-linecap="round" stroke-width="2.8" />
<path d="M1183.5 1291 Q1179 1313.5 1183.5 1336" fill="none" stroke="#fff" stroke-linejoin="round" stroke-linecap="round" stroke-width="2.8" />
<path d="M1220.5 1291 Q1225 1313.5 1220.5 1336" fill="none" stroke="#fff" stroke-linejoin="round" stroke-linecap="round" stroke-width="2.8" />
<path d="M1177 1259 L1169 1267 L1168 1320 L1177 1318" fill="none" stroke="#fff" stroke-linejoin="round" stroke-linecap="round" stroke-width="3.2" />
<rect x="1510.6" y="1625.2" width="97.10000000000014" height="47.799999999999955" fill="#0b0e12" stroke="#fff" stroke-width="3"/>
<path d="M1559.15 1625.2 L1559.15 1673" fill="none" stroke="#fff" stroke-linejoin="round" stroke-linecap="round" stroke-width="3" />
<path d="M1512.6 1631.7 Q1535.875 1626.2 1559.15 1631.7" fill="none" stroke="#fff" stroke-linejoin="round" stroke-linecap="round" stroke-width="2.5" />
<path d="M1512.6 1666.5 Q1535.875 1672 1559.15 1666.5" fill="none" stroke="#fff" stroke-linejoin="round" stroke-linecap="round" stroke-width="2.5" />
<path d="M1559.15 1631.7 Q1582.4250000000002 1626.2 1605.7 1631.7" fill="none" stroke="#fff" stroke-linejoin="round" stroke-linecap="round" stroke-width="2.5" />
<path d="M1559.15 1666.5 Q1582.4250000000002 1672 1605.7 1666.5" fill="none" stroke="#fff" stroke-linejoin="round" stroke-linecap="round" stroke-width="2.5" />
<path d="M1529 1724 Q1528 1727 1532 1727.5 L1586 1729 Q1589 1726 1586 1724" fill="none" stroke="#fff" stroke-linejoin="round" stroke-linecap="round" stroke-width="2.6" />
<path d="M1529 1731 Q1528 1734 1532 1734.5 L1586 1736 Q1589 1733 1586 1731" fill="none" stroke="#fff" stroke-linejoin="round" stroke-linecap="round" stroke-width="2.6" />
<path d="M1529 1738 Q1528 1741 1532 1741.5 L1586 1743 Q1589 1740 1586 1738" fill="none" stroke="#fff" stroke-linejoin="round" stroke-linecap="round" stroke-width="2.6" />
<rect x="1500.5" y="1745.5" width="115.8" height="11.7" fill="#0b0e12" stroke="#fff" stroke-width="3"/>
<rect x="1513.5" y="1758.6" width="89.8" height="13.7" fill="#0b0e12" stroke="#fff" stroke-width="3"/>
<rect x="1510.6" y="1773.5" width="97.10000000000014" height="48.5" fill="#0b0e12" stroke="#fff" stroke-width="3"/>
<path d="M1559.15 1773.5 L1559.15 1822" fill="none" stroke="#fff" stroke-linejoin="round" stroke-linecap="round" stroke-width="3" />
<path d="M1512.6 1780.0 Q1535.875 1774.5 1559.15 1780.0" fill="none" stroke="#fff" stroke-linejoin="round" stroke-linecap="round" stroke-width="2.5" />
<path d="M1512.6 1815.5 Q1535.875 1821 1559.15 1815.5" fill="none" stroke="#fff" stroke-linejoin="round" stroke-linecap="round" stroke-width="2.5" />
<path d="M1559.15 1780.0 Q1582.4250000000002 1774.5 1605.7 1780.0" fill="none" stroke="#fff" stroke-linejoin="round" stroke-linecap="round" stroke-width="2.5" />
<path d="M1559.15 1815.5 Q1582.4250000000002 1821 1605.7 1815.5" fill="none" stroke="#fff" stroke-linejoin="round" stroke-linecap="round" stroke-width="2.5" />
<path d="M1529 1825 Q1528 1828 1532 1828.5 L1587 1830 Q1590 1827 1587 1825" fill="none" stroke="#fff" stroke-linejoin="round" stroke-linecap="round" stroke-width="2.6" />
<path d="M1529 1831.5 Q1528 1834.5 1532 1835.0 L1587 1836.5 Q1590 1833.5 1587 1831.5" fill="none" stroke="#fff" stroke-linejoin="round" stroke-linecap="round" stroke-width="2.6" />
<path d="M1529 1838 Q1528 1841 1532 1841.5 L1587 1843 Q1590 1840 1587 1838" fill="none" stroke="#fff" stroke-linejoin="round" stroke-linecap="round" stroke-width="2.6" />
<path d="M1529 1844.5 Q1528 1847.5 1532 1848.0 L1587 1849.5 Q1590 1846.5 1587 1844.5" fill="none" stroke="#fff" stroke-linejoin="round" stroke-linecap="round" stroke-width="2.6" />
<path d="M1529 1851 Q1528 1854 1532 1854.5 L1587 1856 Q1590 1853 1587 1851" fill="none" stroke="#fff" stroke-linejoin="round" stroke-linecap="round" stroke-width="2.6" />
<path d="M410 965.5 C404 964.5 400 964 397 965 C393 967 390 968.5 385 968.8 C379 969 372 972 371 979 C370 988 375 997 383 1004 C389 1009 394 1011 399 1013" fill="none" stroke="#fff" stroke-width="3" stroke-linecap="round"/>
<path d="M409 983 L418 921 Q418.8 917.2 422.5 917.2 L501.5 917.2 Q505.2 917.2 506 921 L515 983" fill="#0a0b0e" stroke="#fff" stroke-width="3" stroke-linejoin="round"/>
<line x1="424" y1="930.8" x2="503" y2="930.8" stroke="#fff" stroke-width="4"/>
<line x1="424" y1="937.8" x2="503" y2="937.8" stroke="#fff" stroke-width="4"/>
<line x1="424" y1="943" x2="503" y2="943" stroke="#fff" stroke-width="4"/>
<line x1="424" y1="948" x2="503" y2="948" stroke="#fff" stroke-width="4"/>
<line x1="424" y1="953" x2="503" y2="953" stroke="#fff" stroke-width="4"/>
<line x1="424" y1="959.7" x2="503" y2="959.7" stroke="#fff" stroke-width="4"/>
<rect x="402" y="983" width="119" height="31" fill="#0a0b0e" stroke="#fff" stroke-width="3"/>
<line x1="424" y1="991.6" x2="503" y2="991.6" stroke="#fff" stroke-width="4"/>
<line x1="424" y1="998.3" x2="503" y2="998.3" stroke="#fff" stroke-width="4"/>
<line x1="424" y1="1003.8" x2="503" y2="1003.8" stroke="#fff" stroke-width="4"/>
<line x1="424" y1="1009.7" x2="503" y2="1009.7" stroke="#fff" stroke-width="4"/>
<rect x="393" y="1015" width="137.7" height="20.6" fill="#0a0b0e" stroke="#fff" stroke-width="3"/>
<line x1="402" y1="1013" x2="402" y2="1037" stroke="#fff" stroke-width="3"/>
<line x1="521" y1="1013" x2="521" y2="1037" stroke="#fff" stroke-width="3"/>
<line x1="402" y1="1017.8" x2="521" y2="1017.8" stroke="#fff" stroke-width="2.5"/>
<line x1="402" y1="1032.5" x2="521" y2="1032.5" stroke="#fff" stroke-width="2.5"/>
<path d="M120.5 1857.4 V1499 A15 15 0 0 1 135.5 1484 H706.8 A15 15 0 0 1 721.8 1499 V1857.4 Z" fill="none" stroke="#fff" stroke-width="2.8"/>
<line x1="249.4" y1="1610.7" x2="347.7" y2="1610.7" stroke="#fff" stroke-width="6" stroke-linecap="round"/>
<line x1="298.5" y1="1562.3" x2="298.5" y2="1659.6" stroke="#fff" stroke-width="6" stroke-linecap="round"/>
<line x1="494" y1="1610.7" x2="592.3" y2="1610.7" stroke="#fff" stroke-width="6" stroke-linecap="round"/>
<path d="M261.2 1484 V1437.3 H318.7 V1484" fill="none" stroke="#fff" stroke-width="3.2"/>
<path d="M271.9 1437.3 V1413 A18.3 18.3 0 0 1 308.5 1413 V1437.3" fill="#0b0c0f" stroke="#fff" stroke-width="3.2"/>
<circle cx="290.2" cy="1412" r="7.6" fill="none" stroke="#fff" stroke-width="3"/>
<rect x="280.0" y="1368.5" width="20.4" height="25" fill="#fff"/>
<line x1="283.4" y1="1371" x2="283.4" y2="1392" stroke="#0b0c0f" stroke-width="1.6"/>
<line x1="297.0" y1="1371" x2="297.0" y2="1392" stroke="#0b0c0f" stroke-width="1.6"/>
<rect x="287.2" y="1373.5" width="6" height="18.5" fill="#0b0c0f"/>
<path d="M522.5 1484 V1437.3 H580.0 V1484" fill="none" stroke="#fff" stroke-width="3.2"/>
<path d="M533.2 1437.3 V1413 A18.3 18.3 0 0 1 569.8 1413 V1437.3" fill="#0b0c0f" stroke="#fff" stroke-width="3.2"/>
<circle cx="551.5" cy="1412" r="7.6" fill="none" stroke="#fff" stroke-width="3"/>
<rect x="541.3" y="1368.5" width="20.4" height="25" fill="#fff"/>
<line x1="544.7" y1="1371" x2="544.7" y2="1392" stroke="#0b0c0f" stroke-width="1.6"/>
<line x1="558.3" y1="1371" x2="558.3" y2="1392" stroke="#0b0c0f" stroke-width="1.6"/>
<rect x="548.5" y="1373.5" width="6" height="18.5" fill="#0b0c0f"/>
</svg>
</body></html>
